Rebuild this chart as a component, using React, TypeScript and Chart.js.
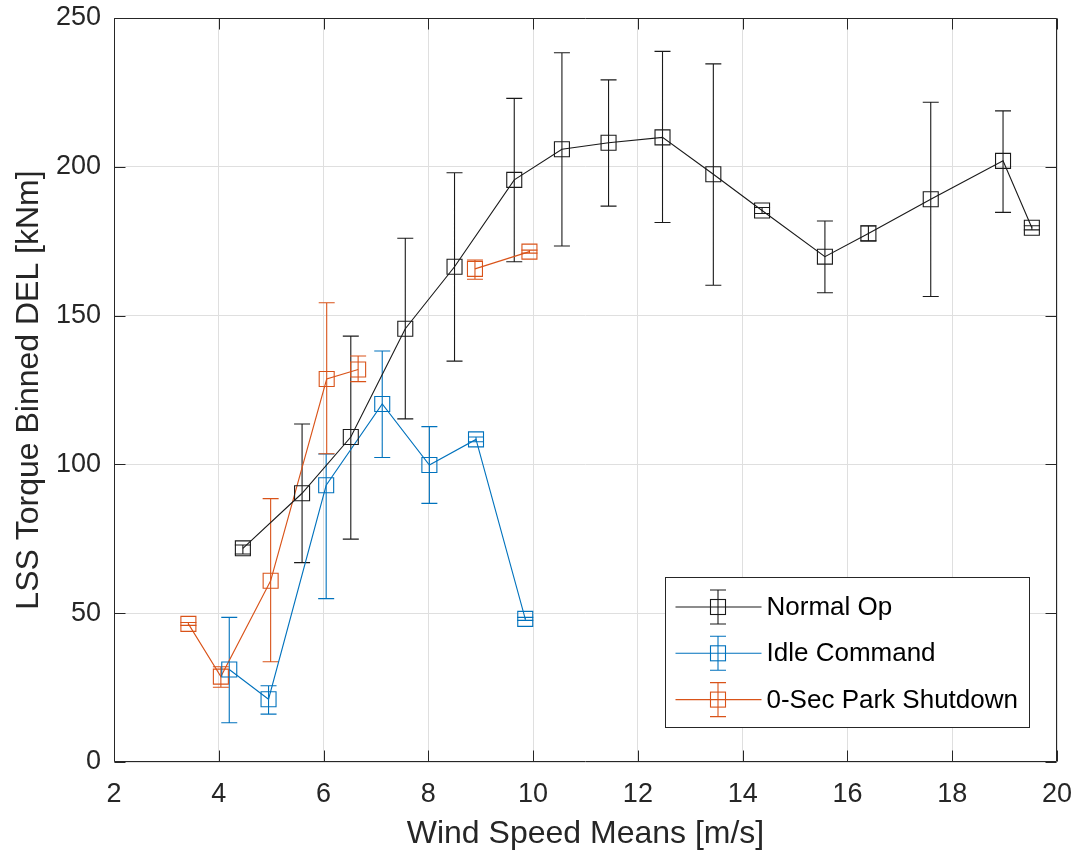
import React, { useEffect, useRef } from "react";
import { Chart, registerables } from "chart.js";

Chart.register(...registerables);

// ---------- Data ----------
const normalX = [4.46, 5.59, 6.52, 7.56, 8.5, 9.64, 10.55, 11.44, 12.47, 13.44, 14.37, 15.57, 16.4, 17.59, 18.97, 19.52];
const normalY = [71.8, 90.3, 109.2, 145.6, 166.4, 195.6, 205.9, 208.1, 209.9, 197.5, 185.3, 169.8, 177.6, 189.1, 202.0, 179.5];
const normalLo = [69.9, 67.0, 74.9, 115.3, 134.7, 168.1, 173.4, 186.8, 181.3, 160.2, 184.3, 157.7, 175.1, 156.4, 184.7, 178.8];
const normalHi = [72.9, 113.6, 143.1, 176.0, 198.0, 223.0, 238.3, 229.2, 238.8, 234.6, 186.3, 181.8, 180.2, 221.7, 218.8, 180.2];

const idleX = [4.2, 4.95, 6.05, 7.12, 8.02, 8.91, 9.85];
const idleY = [31.1, 21.1, 93.0, 120.3, 99.8, 108.4, 48.1];
const idleLo = [13.2, 16.1, 54.9, 102.3, 86.9, 107.6, 47.6];
const idleHi = [48.6, 25.6, 103.5, 138.1, 112.7, 109.2, 48.6];

const parkX = [3.42, 4.04, 4.99, 6.06, 6.66, 8.89, 9.93];
const parkY = [46.4, 28.7, 60.9, 128.7, 131.9, 165.7, 171.5];
const parkLo = [45.9, 25.1, 33.7, 103.6, 127.8, 162.2, 171.0];
const parkHi = [46.9, 32.0, 88.5, 154.3, 136.4, 168.7, 172.0];
// the park series line is broken between these point indices
const parkBreakAfter = [4];

const seriesLabels = ["Normal Op", "Idle Command", "0-Sec Park Shutdown"];
const seriesColors = ["#1a1a1a", "#0072BD", "#D95319"];

const xTicks = [2, 4, 6, 8, 10, 12, 14, 16, 18, 20];
const yTicks = [0, 50, 100, 150, 200, 250];

const xTitle = "Wind Speed Means [m/s]";
const yTitle = "LSS Torque Binned DEL [kNm]";

const FONT = "'Liberation Sans', Arial, Helvetica, sans-serif";

export default function App() {
  const ref = useRef<HTMLCanvasElement>(null);

  useEffect(() => {
    const canvas = ref.current;
    if (!canvas) return;

    const series = [
      { x: normalX, y: normalY, lo: normalLo, hi: normalHi, breaks: [] as number[] },
      { x: idleX, y: idleY, lo: idleLo, hi: idleHi, breaks: [] as number[] },
      { x: parkX, y: parkY, lo: parkLo, hi: parkHi, breaks: parkBreakAfter },
    ];

    const datasets = series.map((s, i) => ({
      label: seriesLabels[i],
      data: s.x.map((xv, j) => ({ x: xv, y: s.y[j] })),
      borderColor: seriesColors[i],
      backgroundColor: "transparent",
      borderWidth: 1.1,
      showLine: true,
      tension: 0,
      segment: {
        borderColor: (ctx: any) => (s.breaks.includes(ctx.p0DataIndex) ? "rgba(0,0,0,0)" : undefined),
      },
      pointStyle: "rect" as const,
      pointRadius: 10.6,
      pointHoverRadius: 10.6,
      pointBorderWidth: 1.1,
      pointBorderColor: seriesColors[i],
      pointBackgroundColor: "transparent",
    }));

    const CAP = 8;

    const framePlugin = {
      id: "frameAndErrors",
      beforeDatasetsDraw(chart: any) {
        const ctx = chart.ctx as CanvasRenderingContext2D;
        const ca = chart.chartArea;
        const xs = chart.scales.x;
        const ys = chart.scales.y;
        ctx.save();
        ctx.strokeStyle = "#262626";
        ctx.lineWidth = 1;
        const L = Math.round(ca.left) + 0.5;
        const R = Math.round(ca.right) - 0.5;
        const T = Math.round(ca.top) + 0.5;
        const B = Math.round(ca.bottom) - 0.5;
        ctx.beginPath();
        ctx.rect(L, T, R - L, B - T);
        ctx.stroke();
        const TL = 11;
        ctx.beginPath();
        xTicks.forEach((t) => {
          const px = Math.round(xs.getPixelForValue(t)) + 0.5;
          ctx.moveTo(px, B);
          ctx.lineTo(px, B - TL);
          ctx.moveTo(px, T);
          ctx.lineTo(px, T + TL);
        });
        yTicks.forEach((t) => {
          const py = Math.round(ys.getPixelForValue(t)) + 0.5;
          ctx.moveTo(L, py);
          ctx.lineTo(L + TL, py);
          ctx.moveTo(R, py);
          ctx.lineTo(R - TL, py);
        });
        ctx.stroke();

        series.forEach((s, i) => {
          ctx.strokeStyle = seriesColors[i];
          ctx.lineWidth = 1.1;
          ctx.beginPath();
          s.x.forEach((xv, j) => {
            const px = xs.getPixelForValue(xv);
            const pLo = ys.getPixelForValue(s.lo[j]);
            const pHi = ys.getPixelForValue(s.hi[j]);
            ctx.moveTo(px, pLo);
            ctx.lineTo(px, pHi);
            ctx.moveTo(px - CAP, pLo);
            ctx.lineTo(px + CAP, pLo);
            ctx.moveTo(px - CAP, pHi);
            ctx.lineTo(px + CAP, pHi);
          });
          ctx.stroke();
        });
        ctx.restore();
      },
      afterDatasetsDraw(chart: any) {
        const ctx = chart.ctx as CanvasRenderingContext2D;
        const ca = chart.chartArea;
        const W = 364;
        const H = 150;
        const left = Math.round(ca.right - 28 - W) + 0.5;
        const top = Math.round(ca.bottom - 35 - H) + 0.5;
        ctx.save();
        ctx.fillStyle = "#ffffff";
        ctx.fillRect(left, top, W, H);
        ctx.strokeStyle = "#262626";
        ctx.lineWidth = 1;
        ctx.strokeRect(left, top, W, H);
        seriesLabels.forEach((label, i) => {
          const cy = top + 29.5 + i * 46.3;
          const c = seriesColors[i];
          ctx.strokeStyle = c;
          ctx.lineWidth = 1.1;
          const mx = left + 52.5;
          ctx.beginPath();
          ctx.moveTo(left + 10, cy);
          ctx.lineTo(left + 96, cy);
          ctx.moveTo(mx, cy - 17);
          ctx.lineTo(mx, cy + 17);
          ctx.moveTo(mx - CAP, cy - 17);
          ctx.lineTo(mx + CAP, cy - 17);
          ctx.moveTo(mx - CAP, cy + 17);
          ctx.lineTo(mx + CAP, cy + 17);
          ctx.stroke();
          ctx.strokeRect(mx - 7.5, cy - 7.5, 15, 15);
          ctx.fillStyle = "#000000";
          ctx.font = `26px ${FONT}`;
          ctx.textAlign = "left";
          ctx.textBaseline = "middle";
          ctx.fillText(label, left + 101, cy + 1);
        });
        ctx.restore();
      },
    };

    const chart = new Chart(canvas, {
      type: "scatter",
      data: { datasets },
      options: {
        animation: false,
        responsive: false,
        devicePixelRatio: 1,
        layout: { padding: { top: 18, right: 19, left: 0, bottom: 0 } },
        plugins: {
          legend: { display: false },
          tooltip: { enabled: false },
        },
        scales: {
          x: {
            type: "linear",
            min: 2,
            max: 20,
            afterBuildTicks: (scale: any) => {
              scale.ticks = xTicks.map((v) => ({ value: v }));
            },
            afterFit: (scale: any) => {
              scale.height = 92;
              scale.paddingLeft = 0;
              scale.paddingRight = 0;
            },
            grid: { color: "#dfdfdf", lineWidth: 1, drawTicks: false },
            border: { display: false },
            ticks: {
              padding: 16,
              color: "#262626",
              font: { family: FONT, size: 27 },
              maxRotation: 0,
              autoSkip: false,
              callback: (v: any) => String(v),
            },
            title: {
              display: true,
              text: xTitle,
              color: "#262626",
              font: { family: FONT, size: 32 },
              padding: { top: 0, bottom: 1 },
            },
          },
          y: {
            type: "linear",
            min: 0,
            max: 250,
            afterBuildTicks: (scale: any) => {
              scale.ticks = yTicks.map((v) => ({ value: v }));
            },
            afterFit: (scale: any) => {
              scale.width = 114;
              scale.paddingTop = 0;
              scale.paddingBottom = 0;
            },
            grid: { color: "#dfdfdf", lineWidth: 1, drawTicks: false },
            border: { display: false },
            ticks: {
              padding: 13,
              color: "#262626",
              font: { family: FONT, size: 27 },
              autoSkip: false,
              callback: (v: any) => String(v),
            },
            title: {
              display: true,
              text: yTitle,
              color: "#262626",
              font: { family: FONT, size: 32 },
              padding: { top: 10, bottom: 0 },
            },
          },
        },
      },
      plugins: [framePlugin],
    } as any);

    return () => chart.destroy();
  }, []);

  return (
    <div style={{ position: "fixed", left: 0, top: 0, width: 1076, height: 854, background: "#ffffff" }}>
      <canvas ref={ref} width={1076} height={854} style={{ display: "block", width: 1076, height: 854 }} />
    </div>
  );
}
